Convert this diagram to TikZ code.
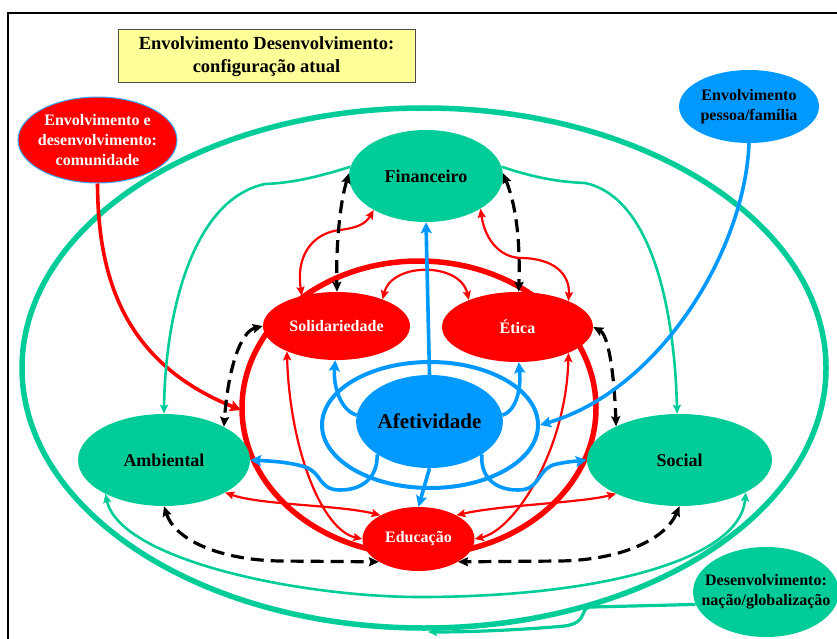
\documentclass[tikz,border=0pt]{standalone}
\usepackage{fontspec}
\setmainfont{Liberation Serif}
\usetikzlibrary{arrows.meta,shapes.geometric}
\definecolor{verde}{HTML}{00CC99}
\definecolor{vermelho}{HTML}{FF0000}
\definecolor{azul}{HTML}{0099FF}
\definecolor{amarelo}{HTML}{FFFF99}
\begin{document}
\begin{tikzpicture}[x=1pt,y=-1pt]
    \tikzstyle{every node}+=[inner sep=0pt]
    \tikzstyle{elipse}=[ellipse, align=center]
    \tikzstyle{txtp}=[font=\bfseries\fontsize{16}{20}\selectfont]
    \tikzstyle{txtg}=[font=\bfseries\fontsize{18}{22}\selectfont]
    \tikzstyle{verm}=[draw=vermelho, line width=2.2pt, >={Stealth[length=9pt,width=8pt,inset=1.5pt]}, <->]
    \tikzstyle{trac}=[draw=black, line width=3.2pt, dash pattern=on 13pt off 7pt, >={Stealth[length=10pt,width=9pt,inset=1.5pt]}, <->]
    \tikzstyle{verd}=[draw=verde, line width=2.6pt, >={Stealth[length=9pt,width=8pt,inset=1.5pt]}]
    \tikzstyle{azu}=[draw=azul, line width=3.6pt, >={Stealth[length=11pt,width=11pt,inset=2pt]}, ->]
    \useasboundingbox (0,0) rectangle (837,639);
    \draw [black, line width=1.7pt] (8,639) -- (8,13) -- (837,13);
    \node [draw=black!70, line width=1pt, fill=amarelo, minimum width=297pt, minimum height=53pt, align=center,
        font=\bfseries\fontsize{18.5}{23}\selectfont] (titulo) at (266.5,56.5)
        {Envolvimento Desenvolvimento:\\configuração atual};
    % aneis
    \draw [verde, line width=5.5pt] (424,368) ellipse [x radius=402, y radius=260];
    \draw [vermelho, line width=5.5pt] (419,408) ellipse [x radius=177, y radius=147];
    \draw [azul, line width=4pt] (430,425) ellipse [x radius=108, y radius=63];
    % nos
    \node [elipse, txtp, fill=vermelho, draw=azul!80, line width=1pt, text=white, minimum width=159pt, minimum height=86pt, inner sep=-6pt] (com) at (97.5,140) {Envolvimento e\\desenvolvimento:\\comunidade};
    \node [elipse, txtp, fill=azul, minimum width=140pt, minimum height=73pt] (pes) at (749,106.5) {Envolvimento\\pessoa/família};
    \node [elipse, txtg, fill=verde, minimum width=154pt, minimum height=92pt] (fin) at (426,176) {Financeiro};
    \node [elipse, txtp, fill=vermelho, text=white, minimum width=147pt, minimum height=68pt] (sol) at (336.5,326) {Solidariedade};
    \node [elipse, txtp, fill=vermelho, text=white, minimum width=151pt, minimum height=70pt] (eti) at (517.5,327) {Ética};
    \node [elipse, fill=azul, minimum width=145pt, minimum height=93pt, font=\bfseries\fontsize{21}{25}\selectfont] (afe) at (429.5,421.5) {Afetividade};
    \node [elipse, txtg, fill=verde, minimum width=172pt, minimum height=92pt] (amb) at (164,460) {Ambiental};
    \node [elipse, txtg, fill=verde, minimum width=185pt, minimum height=92pt] (soc) at (679.5,460) {Social};
    \node [elipse, txtp, fill=vermelho, text=white, minimum width=112pt, minimum height=64pt] (edu) at (418.5,539) {Educação};
    \node [elipse, txtp, fill=verde, minimum width=146pt, minimum height=90pt, inner sep=-15pt] (nac) at (766,592) {Desenvolvimento:\\nação/globalização};
    \coordinate (anelv) at (241,410);
    \coordinate (anela) at (540,425);
    \coordinate (anelg) at (428,632);
    % vermelhas
    \draw [verm] (sol.139) .. controls (295,250) and (318,232) .. (340,230) .. controls (355,228) and (365,225) .. (fin.213);
    \draw [verm] (fin.-31) .. controls (485,240) and (500,257) .. (520,258) .. controls (555,258) and (570,275) .. (eti.27);
    \draw [verm] (sol.30) .. controls (392,262) and (460,262) .. (eti.151);
    \draw [verm] (sol.207) .. controls (290,450) and (322,530) .. (edu.180);
    \draw [verm] (eti.-27) .. controls (566,450) and (515,530) .. (edu.0);
    \draw [verm] (amb.-28) .. controls (260,505) and (340,505) .. (edu.148);
    \draw [verm] (soc.208) .. controls (580,503) and (500,505) .. (edu.32);
    \draw [verm, line width=3.6pt, ->, >={Stealth[length=11pt,width=11pt,inset=2pt]}] (com.south) .. controls (98,275) and (122,362) .. (anelv);
    % tracejadas
    \draw [trac] (fin.178) .. controls (338,210) and (336,260) .. (sol.89);
    \draw [trac] (fin.2) .. controls (518,210) and (520,250) .. (eti.88);
    \draw [trac] (sol.180) .. controls (240,332) and (228,370) .. (amb.29);
    \draw [trac] (eti.0) .. controls (608,335) and (614,370) .. (soc.152);
    \draw [trac] (amb.south) .. controls (175,540) and (220,560) .. (280,561) -- (edu.210);
    \draw [trac] (soc.south) .. controls (665,540) and (620,560) .. (560,561) -- (edu.-30);
    % verdes
    \draw [verd, ->] (fin.173) .. controls (315,178) and (290,183) .. (265,184) .. controls (190,200) and (165,320) .. (amb.north);
    \draw [verd, ->] (fin.7) .. controls (535,178) and (560,182) .. (585,183) .. controls (655,198) and (675,320) .. (soc.93);
    \draw [verd, <->] (amb.210) .. controls (120,560) and (300,597) .. (420,597) .. controls (600,597) and (740,560) .. (soc.-26);
    \draw [verd, line width=3.2pt, ->] (nac.190) -- (592,607) .. controls (578,607) and (590,622) .. (565,626) .. controls (520,630) and (470,632) .. (anelg);
    % azuis
    \draw [azu] (afe.north) -- (fin.south);
    \draw [azu] (afe.175) .. controls (340,410) and (333,385) .. (sol.268);
    \draw [azu] (afe.5) .. controls (518,410) and (521,385) .. (eti.272);
    \draw [azu] (afe.212) .. controls (378,475) and (365,490) .. (340,490) .. controls (318,490) and (322,472) .. (305,467) .. controls (290,462) and (270,461) .. (amb.0);
    \draw [azu] (afe.-32) .. controls (480,475) and (493,490) .. (518,490) .. controls (540,490) and (536,472) .. (553,465) .. controls (568,461) and (580,461) .. (soc.180);
    \draw [azu] (afe.south) -- (edu.north);
    \draw [azu] (pes.south) .. controls (745,250) and (660,390) .. (anela);
\end{tikzpicture}
\end{document}
